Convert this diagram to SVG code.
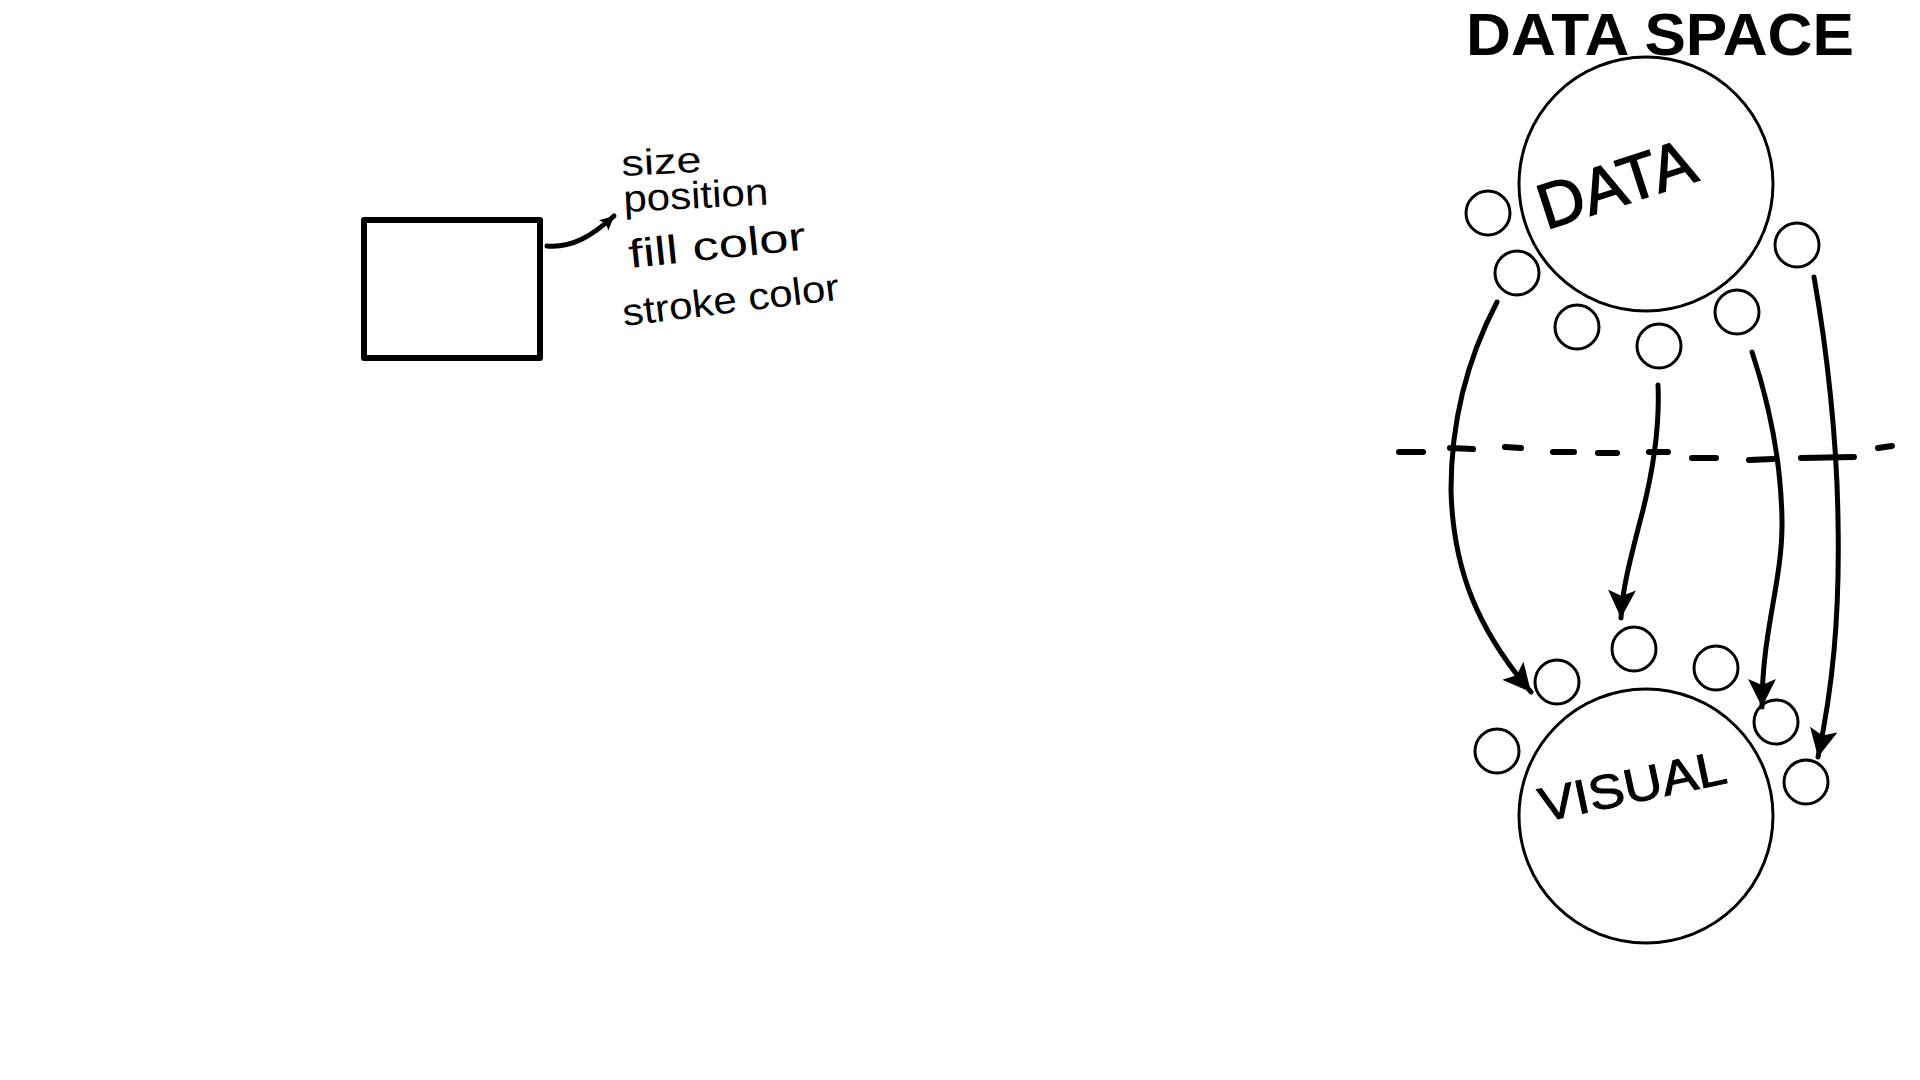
<svg xmlns="http://www.w3.org/2000/svg" width="1920" height="1080" viewBox="0 0 1920 1080">
<defs>
<style>
.hand{font-family:"Liberation Sans","DejaVu Sans",sans-serif;fill:#000}
.small{fill:none;stroke:#000;stroke-width:3}
.big{fill:none;stroke:#000;stroke-width:3}
.conn{fill:none;stroke:#000;stroke-width:5;stroke-linecap:round}
</style>
<marker id="ah" markerUnits="userSpaceOnUse" markerWidth="34" markerHeight="34" refX="28" refY="14" orient="auto">
<path d="M0,0 L28,14 L0,28 L6,14 Z" fill="#000"/>
</marker>
<marker id="ahs" markerUnits="userSpaceOnUse" markerWidth="16" markerHeight="16" refX="14" refY="7" orient="auto">
<path d="M0,0 L14,7 L0,14 L3,7 Z" fill="#000"/>
</marker>
</defs>
<rect width="1920" height="1080" fill="#fff"/>

<g id="rect-node">
<rect x="364" y="220" width="176" height="138" fill="none" stroke="#000" stroke-width="6" stroke-linejoin="round"/>
</g>

<g id="attributes">
<text class="hand" x="622" y="176" font-size="36" textLength="80" lengthAdjust="spacingAndGlyphs" transform="rotate(-3 622 176)">size</text>
<text class="hand" x="624" y="212" font-size="38" textLength="145" lengthAdjust="spacingAndGlyphs" transform="rotate(-3 624 212)">position</text>
<text class="hand" x="630" y="268" font-size="40" textLength="178" lengthAdjust="spacingAndGlyphs" transform="rotate(-6 630 268)">fill color</text>
<text class="hand" x="624" y="326" font-size="38" textLength="218" lengthAdjust="spacingAndGlyphs" transform="rotate(-7 624 326)">stroke color</text>
</g>

<g id="title">
<text class="hand" x="1466" y="55" font-size="60" font-weight="bold" textLength="388" lengthAdjust="spacingAndGlyphs">DATA SPACE</text>
</g>

<g id="data-node">
<circle class="big" cx="1646" cy="184" r="127"/>
<text class="hand" x="1546" y="230" font-size="64" stroke="#000" stroke-width="1.5" textLength="162" lengthAdjust="spacingAndGlyphs" transform="rotate(-18 1546 230)">DATA</text>
</g>

<g id="data-items">
<circle class="small" cx="1488" cy="213" r="22"/>
<circle class="small" cx="1517" cy="273" r="22"/>
<circle class="small" cx="1577" cy="327" r="22"/>
<circle class="small" cx="1659" cy="346" r="22"/>
<circle class="small" cx="1737" cy="312" r="22"/>
<circle class="small" cx="1797" cy="245" r="22"/>
</g>

<g id="visual-node">
<circle class="big" cx="1646" cy="816" r="127"/>
<text class="hand" x="1543" y="822" font-size="48" stroke="#000" stroke-width="1" textLength="190" lengthAdjust="spacingAndGlyphs" transform="rotate(-12 1543 822)">VISUAL</text>
</g>

<g id="visual-items">
<circle class="small" cx="1557" cy="682" r="22"/>
<circle class="small" cx="1634" cy="649" r="22"/>
<circle class="small" cx="1716" cy="668" r="22"/>
<circle class="small" cx="1776" cy="722" r="22"/>
<circle class="small" cx="1806" cy="782" r="22"/>
<circle class="small" cx="1497" cy="751" r="22"/>
</g>

<g id="divider">
<path d="M1399,452 L1423,452 M1450,448 L1473,449 M1505,447 L1521,448 M1553,452 L1574,452 M1598,453 L1617,453 M1649,452 L1668,452 M1692,458 L1716,458 M1749,460 L1773,459 M1801,458 L1854,457 M1878,448 L1892,446" fill="none" stroke="#000" stroke-width="6" stroke-linecap="round"/>
</g>

<g id="connectors">
<path class="conn" d="M547,246 C572,248 592,236 614,216" stroke-width="3" marker-end="url(#ahs)"/>
<path class="conn" d="M1497,302 C1464,365 1451,430 1451,490 C1453,570 1478,630 1531,692" marker-end="url(#ah)"/>
<path class="conn" d="M1658,385 C1660,430 1653,470 1643,510 C1630,560 1622,590 1621,618" marker-end="url(#ah)"/>
<path class="conn" d="M1752,352 C1768,400 1781,460 1782,520 C1783,580 1762,630 1762,707" marker-end="url(#ah)"/>
<path class="conn" d="M1814,277 C1827,350 1837,440 1838,520 C1840,620 1832,690 1818,757" marker-end="url(#ah)"/>
</g>
</svg>
